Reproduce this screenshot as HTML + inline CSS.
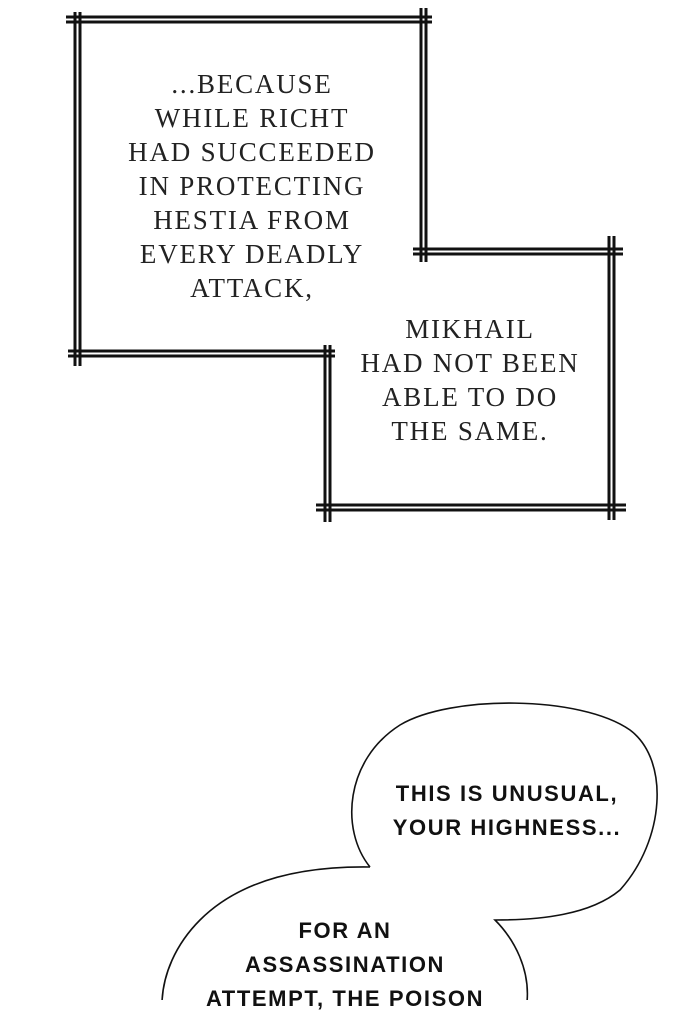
<!DOCTYPE html>
<html><head><style>
body{margin:0;width:690px;height:1000px;background:#fff;position:relative;overflow:hidden}
.t{position:absolute;font-family:"Liberation Serif",serif;font-size:27px;line-height:34px;text-align:center;color:#222;letter-spacing:1.8px}
.c{position:absolute;font-family:"Liberation Sans",sans-serif;font-weight:bold;font-size:22px;line-height:34px;text-align:center;color:#111;letter-spacing:1.6px}
</style></head><body>
<svg width="690" height="1000" style="position:absolute;left:0;top:0" stroke="#111" stroke-width="3" fill="none">
<g>
<line x1="66" y1="17" x2="432" y2="17"/><line x1="66" y1="22" x2="432" y2="22"/>
<line x1="75" y1="12" x2="75" y2="366"/><line x1="80" y1="12" x2="80" y2="366"/>
<line x1="421" y1="8" x2="421" y2="262"/><line x1="426" y1="8" x2="426" y2="262"/>
<line x1="68" y1="351" x2="335" y2="351"/><line x1="68" y1="356" x2="335" y2="356"/>
<line x1="413" y1="249" x2="623" y2="249"/><line x1="413" y1="254" x2="623" y2="254"/>
<line x1="609" y1="236" x2="609" y2="520"/><line x1="614" y1="236" x2="614" y2="520"/>
<line x1="316" y1="505" x2="626" y2="505"/><line x1="316" y1="510" x2="626" y2="510"/>
<line x1="325" y1="345" x2="325" y2="522"/><line x1="330" y1="345" x2="330" y2="522"/>
</g>
<g stroke-width="1.6">
<path d="M370,867 C 340,830 345,760 400,725 C 450,695 580,695 630,730 C 670,760 665,840 620,890 C 590,915 540,920 495,920 C 515,940 530,970 527,1002"/>
<path d="M370,867 C 300,866 240,880 200,920 C 175,945 163,975 162,1002"/>
</g>
</svg>
<div class="t" style="left:102px;top:67px;width:300px">...BECAUSE<br>WHILE RICHT<br>HAD SUCCEEDED<br>IN PROTECTING<br>HESTIA FROM<br>EVERY DEADLY<br>ATTACK,</div>
<div class="t" style="left:320px;top:312px;width:300px">MIKHAIL<br>HAD NOT BEEN<br>ABLE TO DO<br>THE SAME.</div>
<div class="c" style="left:357px;top:777px;width:300px">THIS IS UNUSUAL,<br>YOUR HIGHNESS...</div>
<div class="c" style="left:195px;top:914px;width:300px">FOR AN<br>ASSASSINATION<br>ATTEMPT, THE POISON</div>
</body></html>
